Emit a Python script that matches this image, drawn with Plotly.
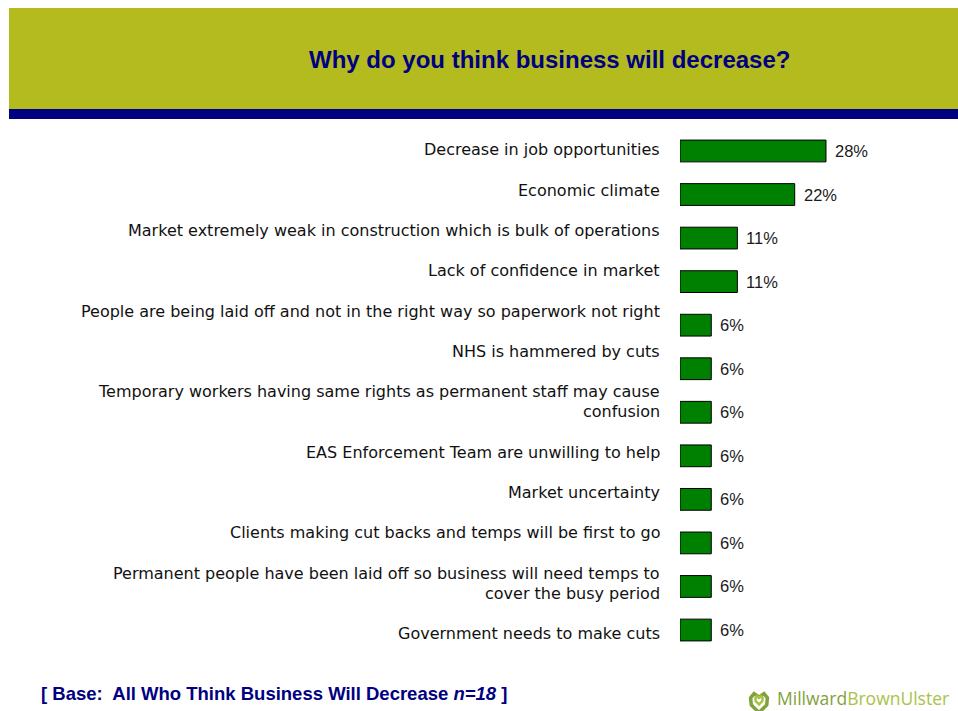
import plotly.graph_objects as go

W, H = 958, 711

# Survey answers, top to bottom, and share of respondents (%)
reasons = [
    "Decrease in job opportunities",
    "Economic climate",
    "Market extremely weak in construction which is bulk of operations",
    "Lack of confidence in market",
    "People are being laid off and not in the right way so paperwork not right",
    "NHS is hammered by cuts",
    "Temporary workers having same rights as permanent staff may cause<br>confusion",
    "EAS Enforcement Team are unwilling to help",
    "Market uncertainty",
    "Clients making cut backs and temps will be first to go",
    "Permanent people have been laid off so business will need temps to<br>cover the busy period",
    "Government needs to make cuts",
]
percent = [28, 22, 11, 11, 6, 6, 6, 6, 6, 6, 6, 6]
bar_ids = list(range(len(percent)))

title_text = "Why do you think business will decrease?"
base_text = "[ Base:  All Who Think Business Will Decrease <i>n=18</i> ]"

OLIVE = "#B3BB1E"
NAVY = "#000080"
GREEN = "#008000"

LABEL_FONT = dict(family="DejaVu Sans, Verdana", size=16, color="#111111")
LINE_H = 20.0      # line pitch inside a wrapped answer
BLOCK_GAP = 20.3   # space between answers
LABEL_TOP = 150.0  # centre of first answer line (px)
LABEL_RIGHT = 662  # right edge of answers (px)


def px_x(v):
    return v / W


def px_y(v):
    return 1 - v / H


fig = go.Figure()

# Bars
fig.add_trace(go.Bar(
    x=percent, y=bar_ids, orientation="h",
    marker=dict(color=GREEN, line=dict(color="#000000", width=1)),
    width=0.5, hoverinfo="skip", showlegend=False,
))

annotations = []

# Answer text, flowed down the left-hand column
y_line = LABEL_TOP
for label in reasons:
    lines = label.split("<br>")
    for ln in lines:
        annotations.append(dict(
            x=px_x(LABEL_RIGHT), y=px_y(y_line), xref="paper", yref="paper",
            text=ln, showarrow=False, xanchor="right", yanchor="middle",
            font=LABEL_FONT,
        ))
        y_line += LINE_H
    y_line += BLOCK_GAP

# Value labels at the end of each bar
for i, v in zip(bar_ids, percent):
    annotations.append(dict(
        x=v, y=i, xref="x", yref="y", text=f"{v}%", showarrow=False,
        xanchor="left", yanchor="middle", xshift=7,
        font=dict(family="Liberation Sans, Arial", size=16.5, color="#1a1a1a"),
    ))

# Title in header band
annotations.append(dict(
    x=px_x(549), y=px_y(60), xref="paper", yref="paper", text=f"<b>{title_text}</b>",
    showarrow=False, xanchor="center", yanchor="middle",
    font=dict(family="Liberation Sans, Arial", size=24, color=NAVY),
))

# Base note
annotations.append(dict(
    x=px_x(39), y=px_y(693), xref="paper", yref="paper", text=f"<b>{base_text}</b>",
    showarrow=False, xanchor="left", yanchor="middle",
    font=dict(family="Liberation Sans, Arial", size=18.5, color=NAVY),
))

# Logo wordmark
annotations.append(dict(
    x=px_x(776), y=0, xref="paper", yref="paper",
    text="<span style='color:#7FA23C'>Millward</span><span style='color:#A9C24A'>BrownUlster</span>",
    showarrow=False, xanchor="left", yanchor="bottom", borderpad=0,
    font=dict(family="Open Sans", size=17.5, color="#7FA23C"),
))


def heart_path(cx, cy, s):
    # Simple heart outline centred at (cx, cy) in pixels, scale s
    pts = [
        (0, 0.9), (-0.55, 0.35), (-0.6, -0.15), (-0.35, -0.45), (0, -0.2),
        (0.35, -0.45), (0.6, -0.15), (0.55, 0.35), (0, 0.9),
    ]
    d = ""
    for k, (a, b) in enumerate(pts):
        X = px_x(cx + a * s)
        Y = px_y(cy + b * s)
        d += ("M" if k == 0 else "L") + f"{X:.5f},{Y:.5f} "
    return d + "Z"


shapes = [
    # olive header band
    dict(type="rect", xref="paper", yref="paper", x0=px_x(9), x1=1,
         y0=px_y(109), y1=px_y(8), fillcolor=OLIVE, line=dict(width=0), layer="below"),
    # navy rule under header
    dict(type="rect", xref="paper", yref="paper", x0=px_x(9), x1=1,
         y0=px_y(119), y1=px_y(109), fillcolor=NAVY, line=dict(width=0), layer="below"),
    # logo mark
    dict(type="path", xref="paper", yref="paper", path=heart_path(759, 700, 14),
         line=dict(color="#7FA23C", width=3.5), fillcolor="rgba(0,0,0,0)"),
    dict(type="path", xref="paper", yref="paper", path=heart_path(759, 699, 6),
         line=dict(color="#A9C24A", width=2.5), fillcolor="rgba(0,0,0,0)"),
]

fig.update_layout(
    width=W, height=H,
    margin=dict(l=0, r=0, t=0, b=0),
    paper_bgcolor="white", plot_bgcolor="rgba(0,0,0,0)",
    xaxis=dict(domain=[px_x(680), 1], range=[0, 278 / 5.214], visible=False,
               fixedrange=True),
    yaxis=dict(domain=[px_y(651.8), px_y(129.2)], range=[len(percent) - 0.5, -0.5],
               visible=False, fixedrange=True),
    annotations=annotations,
    shapes=shapes,
)

fig.write_html("out.html")
